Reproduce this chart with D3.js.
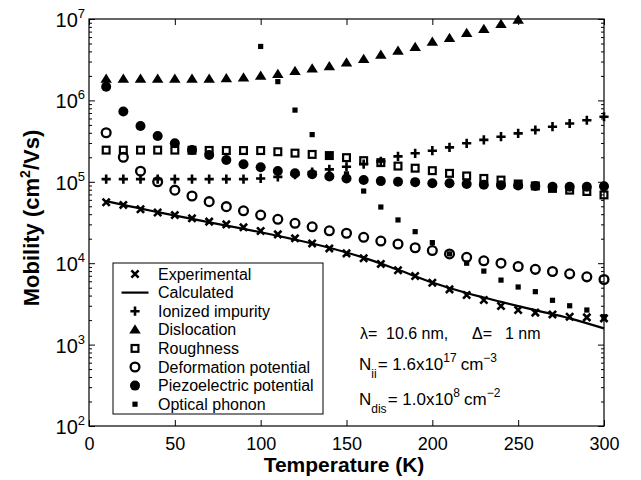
<!DOCTYPE html>
<html>
<head>
<meta charset="utf-8">
<script src="https://cdn.jsdelivr.net/npm/d3@7"></script>
<style>
  html, body { margin: 0; padding: 0; background: #fff; overflow: hidden; }
  svg { display: block; font-family: "Liberation Sans", Arial, sans-serif; }
</style>
</head>
<body>
<svg id="chart" width="641" height="480"></svg>
<script>
// temperatures (K) for the marker series
const temps = [10, 20, 30, 40, 50, 60, 70, 80, 90, 100, 110, 120, 130, 140, 150,
               160, 170, 180, 190, 200, 210, 220, 230, 240, 250, 260, 270, 280, 290, 300];

const experimental = [5.6e4, 5.2e4, 4.6e4, 4.2e4, 3.9e4, 3.56e4, 3.24e4, 3.0e4, 2.76e4, 2.49e4,
                      2.26e4, 2.02e4, 1.75e4, 1.52e4, 1.32e4, 1.15e4, 9.8e3, 8.2e3, 6.96e3, 5.76e3,
                      4.77e3, 4.07e3, 3.53e3, 2.98e3, 2.66e3, 2.47e3, 2.35e3, 2.2e3, 2.16e3, 2.1e3];

const calcTemps  = [10, 20, 40, 60, 80, 100, 120, 140, 160, 180, 200, 220, 240, 260, 280, 300];
const calculated = [5.8e4, 5.2e4, 4.25e4, 3.5e4, 2.9e4, 2.4e4, 1.95e4, 1.55e4, 1.17e4, 8.3e3,
                    5.8e3, 4.3e3, 3.35e3, 2.65e3, 2.1e3, 1.58e3];

const ionized = [1.08e5, 1.08e5, 1.08e5, 1.08e5, 1.08e5, 1.08e5, 1.08e5, 1.08e5, 1.08e5, 1.1e5,
                 1.15e5, 1.22e5, 1.32e5, 1.42e5, 1.53e5, 1.65e5, 1.78e5, 2.05e5, 2.24e5, 2.41e5,
                 2.65e5, 2.97e5, 3.27e5, 3.58e5, 3.94e5, 4.33e5, 4.75e5, 5.2e5, 5.7e5, 6.3e5];

// dislocation only up to 250 K (higher values leave the plot)
const dislocation = [1.83e6, 1.83e6, 1.83e6, 1.83e6, 1.83e6, 1.83e6, 1.83e6, 1.86e6, 1.9e6, 2.0e6,
                     2.1e6, 2.28e6, 2.45e6, 2.6e6, 2.9e6, 3.2e6, 3.6e6, 4.05e6, 4.5e6, 5.2e6,
                     5.8e6, 6.7e6, 7.5e6, 8.6e6, 9.7e6];

const roughness = [2.45e5, 2.45e5, 2.45e5, 2.45e5, 2.45e5, 2.44e5, 2.43e5, 2.42e5, 2.42e5, 2.42e5,
                   2.34e5, 2.25e5, 2.17e5, 2.1e5, 1.98e5, 1.82e5, 1.72e5, 1.56e5, 1.47e5, 1.37e5,
                   1.27e5, 1.18e5, 1.1e5, 1.05e5, 9.4e4, 8.9e4, 8.3e4, 7.9e4, 7.6e4, 6.9e4];

const deformation = [4.0e5, 2.0e5, 1.35e5, 1.0e5, 7.9e4, 6.7e4, 5.7e4, 4.95e4, 4.4e4, 3.9e4,
                     3.46e4, 3.09e4, 2.8e4, 2.5e4, 2.33e4, 2.08e4, 1.87e4, 1.72e4, 1.55e4, 1.43e4,
                     1.3e4, 1.18e4, 1.07e4, 1.0e4, 9.1e3, 8.4e3, 7.9e3, 7.4e3, 6.8e3, 6.3e3];

const piezo = [1.47e6, 7.3e5, 4.85e5, 3.66e5, 2.97e5, 2.46e5, 2.13e5, 1.85e5, 1.64e5, 1.51e5,
               1.36e5, 1.27e5, 1.24e5, 1.16e5, 1.1e5, 1.05e5, 1.02e5, 1.0e5, 9.9e4, 9.6e4,
               9.6e4, 9.4e4, 9.2e4, 9.1e4, 9.0e4, 8.9e4, 8.7e4, 8.7e4, 8.7e4, 8.8e4];

// optical phonon only visible from 100 K
const optical = [4.6e6, 1.7e6, 7.6e5, 3.8e5, 2.1e5, 1.25e5, 7.7e4, 4.9e4, 3.4e4, 2.44e4,
                 1.79e4, 1.3e4, 1.0e4, 8.0e3, 6.2e3, 5.1e3, 4.47e3, 3.5e3, 3.0e3, 2.66e3, 2.2e3];

const xTicks = [0, 50, 100, 150, 200, 250, 300];
const yExps = [2, 3, 4, 5, 6, 7];

const legendLabels = ["Experimental", "Calculated", "Ionized impurity", "Dislocation",
                      "Roughness", "Deformation potential", "Piezoelectric potential", "Optical phonon"];

// layout
const width = 641, height = 480;
const margin = { top: 19, right: 37, bottom: 54, left: 89 };
const innerWidth = width - margin.left - margin.right;
const innerHeight = height - margin.top - margin.bottom;

const svg = d3.select("#chart");
const g = svg.append("g").attr("transform", `translate(${margin.left},${margin.top})`);

const x = d3.scaleLinear().domain([0, 300]).range([0, innerWidth]);
const y = d3.scaleLog().domain([1e2, 1e7]).range([innerHeight, 0]);

// text made of separate pieces (super/subscripts), laid out side by side
function richText(parent, px, py, parts, anchor) {
  const grp = parent.append("g");
  let cx = 0;
  parts.forEach(p => {
    const t = grp.append("text")
      .attr("x", cx + (p.dx || 0)).attr("y", p.dy || 0)
      .style("font-size", p.size + "px").attr("fill", "#000")
      .text(p.t);
    cx += (p.dx || 0) + t.node().getComputedTextLength();
  });
  const off = anchor === "end" ? -cx : anchor === "middle" ? -cx / 2 : 0;
  grp.attr("transform", `translate(${px + off},${py})`);
  return grp;
}

// minor log ticks
const minorTicks = [];
yExps.slice(0, -1).forEach(e => {
  for (let k = 2; k <= 9; k++) minorTicks.push(k * Math.pow(10, e));
});
const majorY = yExps.map(e => Math.pow(10, e));

// axes, ticks pointing inward
g.append("g").attr("class", "axis xlab")
  .attr("transform", `translate(0,${innerHeight})`)
  .call(d3.axisBottom(x).tickValues(xTicks).tickSizeInner(-6).tickSizeOuter(0).tickPadding(11));
g.append("g").attr("class", "axis noLabel")
  .call(d3.axisTop(x).tickValues(xTicks).tickSizeInner(-6).tickSizeOuter(0));
g.append("g").attr("class", "axis noLabel")
  .call(d3.axisLeft(y).tickValues(majorY).tickSizeInner(-6).tickSizeOuter(0));
g.append("g").attr("class", "axis noLabel")
  .call(d3.axisLeft(y).tickValues(minorTicks).tickSizeInner(-3).tickSizeOuter(0));
g.append("g").attr("class", "axis noLabel")
  .attr("transform", `translate(${innerWidth},0)`)
  .call(d3.axisRight(y).tickValues(majorY).tickSizeInner(-6).tickSizeOuter(0));
g.append("g").attr("class", "axis noLabel")
  .attr("transform", `translate(${innerWidth},0)`)
  .call(d3.axisRight(y).tickValues(minorTicks).tickSizeInner(-3).tickSizeOuter(0));

g.selectAll(".axis path").remove();
g.selectAll(".noLabel text").remove();
g.selectAll(".axis line").attr("stroke", "#000").attr("stroke-width", 1);
g.selectAll(".xlab text").style("font-size", "18px").attr("fill", "#000");

// frame
g.append("rect")
  .attr("width", innerWidth).attr("height", innerHeight)
  .attr("fill", "none").attr("stroke", "#000").attr("stroke-width", 1.2);

// y labels 10^n
const yLabels = g.append("g");
yExps.forEach(e => {
  richText(yLabels, -4, y(Math.pow(10, e)) + 8,
    [{ t: "10", size: 20 }, { t: String(e), size: 13, dy: -9 }], "end");
});

// axis titles
svg.append("text")
  .attr("x", 344).attr("y", 472)
  .attr("text-anchor", "middle")
  .style("font-size", "21px").style("font-weight", "bold")
  .text("Temperature (K)");

const yTitle = svg.append("g")
  .attr("transform", "translate(39,218) rotate(-90)")
  .style("font-weight", "bold");
richText(yTitle, 0, 0, [
  { t: "Mobility (cm", size: 22 },
  { t: "2", size: 14, dy: -9 },
  { t: "/Vs)", size: 22 }
], "middle");

// marker shapes
const plot = g.append("g");
function pts(vals, tt) { return vals.map((v, i) => ({ t: (tt || temps)[i], v: v })); }

function drawCross(sel, s) {
  sel.append("path")
    .attr("d", `M${-s},${-s}L${s},${s}M${-s},${s}L${s},${-s}`)
    .attr("stroke", "#000").attr("stroke-width", 2.6).attr("fill", "none");
}
function drawPlus(sel, s) {
  sel.append("path")
    .attr("d", `M${-s},0L${s},0M0,${-s}L0,${s}`)
    .attr("stroke", "#000").attr("stroke-width", 2.6).attr("fill", "none");
}
function drawTri(sel, s) {
  sel.append("path")
    .attr("d", `M0,${-s * 1.1}L${s * 1.15},${s * 0.75}L${-s * 1.15},${s * 0.75}Z`)
    .attr("fill", "#000");
}
function drawOpenSq(sel, s) {
  sel.append("rect").attr("x", -s).attr("y", -s).attr("width", 2 * s).attr("height", 2 * s)
    .attr("fill", "none").attr("stroke", "#000").attr("stroke-width", 2.2);
}
function drawOpenCirc(sel, s) {
  sel.append("circle").attr("r", s).attr("fill", "none").attr("stroke", "#000").attr("stroke-width", 2.3);
}
function drawDot(sel, s) {
  sel.append("circle").attr("r", s).attr("fill", "#000");
}
function drawSmallSq(sel, s) {
  sel.append("rect").attr("x", -s).attr("y", -s).attr("width", 2 * s).attr("height", 2 * s).attr("fill", "#000");
}

function series(data, shape, s) {
  plot.append("g").selectAll("g").data(data).enter().append("g")
    .attr("transform", d => `translate(${x(d.t)},${y(d.v)})`)
    .each(function () { shape(d3.select(this), s); });
}

// calculated curve
const line = d3.line().x(d => x(d.t)).y(d => y(d.v)).curve(d3.curveMonotoneX);
plot.append("path")
  .datum(pts(calculated, calcTemps))
  .attr("d", line)
  .attr("fill", "none").attr("stroke", "#000").attr("stroke-width", 2.2);

series(pts(experimental), drawCross, 3.6);
series(pts(ionized), drawPlus, 4.6);
series(pts(dislocation), drawTri, 5);
series(pts(roughness), drawOpenSq, 3.4);
series(pts(deformation), drawOpenCirc, 4.4);
series(pts(piezo), drawDot, 5);
series(pts(optical, temps.slice(9)), drawSmallSq, 2.6);

// legend
const legend = svg.append("g");
legend.append("rect")
  .attr("x", 113).attr("y", 263).attr("width", 210).attr("height", 151)
  .attr("fill", "#fff").attr("stroke", "#000").attr("stroke-width", 1);

const legendShapes = [
  [drawCross, 3.6], [null, 0], [drawPlus, 4.6], [drawTri, 5],
  [drawOpenSq, 3.4], [drawOpenCirc, 4.4], [drawDot, 5], [drawSmallSq, 2.6]
];
const rowY = i => 274 + i * 18.6;
legendLabels.forEach((lab, i) => {
  const item = legend.append("g").attr("transform", `translate(135,${rowY(i)})`);
  if (legendShapes[i][0]) legendShapes[i][0](item, legendShapes[i][1]);
  else item.append("line").attr("x1", -13.5).attr("x2", 13.5).attr("stroke", "#000").attr("stroke-width", 2.2);
  legend.append("text")
    .attr("x", 158).attr("y", rowY(i) + 5.6)
    .style("font-size", "16px").attr("fill", "#000")
    .text(lab);
});

// annotation
const ann = svg.append("g");
ann.append("text").attr("x", 360).attr("y", 339).style("font-size", "16px").text("λ=");
ann.append("text").attr("x", 386).attr("y", 339).style("font-size", "16px").text("10.6 nm,");
ann.append("text").attr("x", 472).attr("y", 339).style("font-size", "16px").text("Δ=");
ann.append("text").attr("x", 505).attr("y", 339).style("font-size", "16px").text("1 nm");

richText(ann, 359, 370, [
  { t: "N", size: 17 },
  { t: "ii", size: 12, dy: 8 },
  { t: "= 1.6x10", size: 17, dx: 1 },
  { t: "17", size: 12, dy: -8 },
  { t: "cm", size: 17, dx: 4 },
  { t: "−3", size: 12, dy: -8 }
]);

richText(ann, 359, 405, [
  { t: "N", size: 17 },
  { t: "dis", size: 12, dy: 8 },
  { t: "= 1.0x10", size: 17, dx: 1 },
  { t: "8", size: 12, dy: -8 },
  { t: "cm", size: 17, dx: 4 },
  { t: "−2", size: 12, dy: -8 }
]);
</script>
</body>
</html>
